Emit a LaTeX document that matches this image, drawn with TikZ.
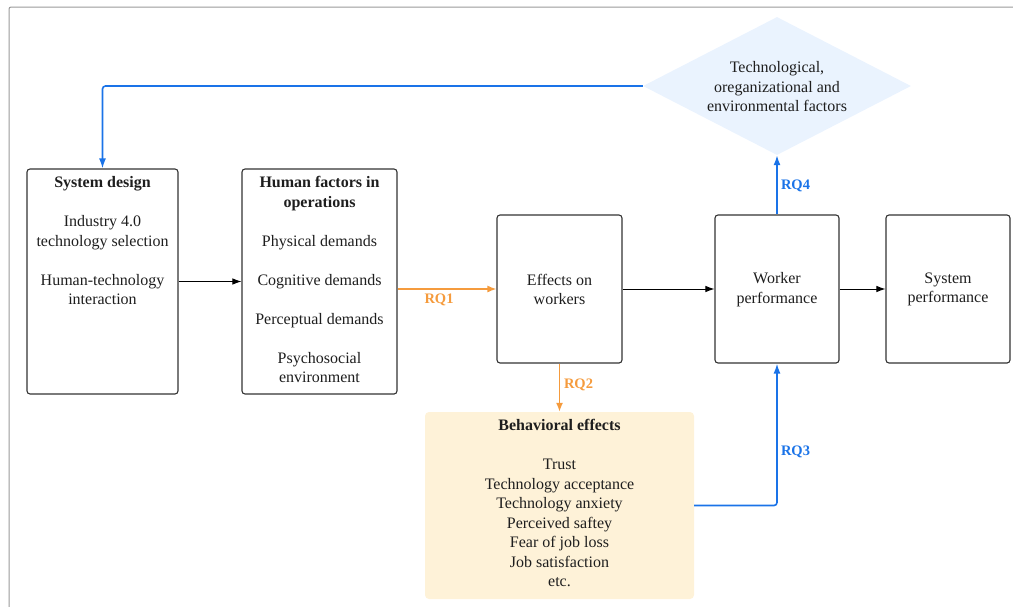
\documentclass[tikz,border=0pt]{standalone}
\usepackage{fontspec}
\setmainfont{Liberation Serif}
\usetikzlibrary{arrows.meta,shapes.geometric}
\definecolor{rqblue}{HTML}{1A73E8}
\definecolor{rqorange}{HTML}{F59B3D}
\definecolor{boxline}{HTML}{333333}
\definecolor{behfill}{HTML}{FEF2D8}
\definecolor{diafill}{HTML}{EAF3FE}
\definecolor{txt}{HTML}{1E1E1E}
\tikzset{
  x=1pt,y=-1pt,
  every node/.style={text=txt},
  boxnode/.style={draw=boxline,line width=1.1pt,rounded corners=3pt,fill=white,inner sep=0pt},
  txtnode/.style={font=\fontsize{16}{19.5}\selectfont,align=center,inner sep=0pt},
  blk/.style={draw=black,line width=0.9pt,-{Latex[length=9pt,width=6.5pt]}},
  bluearr/.style={draw=rqblue,line width=1.6pt,rounded corners=3pt,-{Latex[length=10pt,width=7pt]}},
  orarr/.style={draw=rqorange,line width=1.5pt,-{Latex[length=9pt,width=7pt]}},
  rqlab/.style={font=\fontsize{14.5}{16}\selectfont\bfseries,inner sep=0pt},
}
\begin{document}
\begin{tikzpicture}
\useasboundingbox (0,0) rectangle (1013,606);
% frame
\draw[draw=black!40,line width=1pt,rounded corners=2pt] (9,620) -- (9,7) -- (1030,7);
% boxes
\node[boxnode,minimum width=151,minimum height=225] (sd) at (102.5,281.5) {};
\node[boxnode,minimum width=155,minimum height=225] (hf) at (319.5,281.5) {};
\node[boxnode,minimum width=125,minimum height=148] (ew) at (559.5,289) {};
\node[boxnode,minimum width=124,minimum height=148] (wp) at (777,289) {};
\node[boxnode,minimum width=124,minimum height=148] (sp) at (948,289) {};
\node[fill=behfill,rounded corners=4pt,minimum width=269,minimum height=187,inner sep=0pt] (beh) at (559.5,505.5) {};
\node[diamond,fill=diafill,minimum width=268,minimum height=138,aspect=1.94,inner sep=0pt] (dia) at (777,86) {};
% texts
\node[txtnode,anchor=north] (sdt) at (102.5,176.5) {\textbf{System design}\\[19.5pt]Industry 4.0\\technology selection\\[19.5pt]Human-technology\\interaction};
\node[txtnode,anchor=north] (hft) at (319.5,176.5) {\textbf{Human factors in}\\\textbf{operations}\\[19.5pt]Physical demands\\[19.5pt]Cognitive demands\\[19.5pt]Perceptual demands\\[19.5pt]Psychosocial\\environment};
\node[txtnode] (ewt) at (559.5,289.5) {Effects on\\workers};
\node[txtnode] (wpt) at (777,289.5) {Worker\\performance};
\node[txtnode] (spt) at (948,289.5) {System\\performance};
\node[txtnode] (diat) at (777,87) {Technological,\\oreganizational and\\environmental factors};
\node[txtnode,anchor=north] (beht) at (559.5,419.5) {\textbf{Behavioral effects}\\[19.5pt]Trust\\Technology acceptance\\Technology anxiety\\Perceived saftey\\Fear of job loss\\Job satisfaction\\etc.};
% connectors
\draw[blk] (sd.east) -- (hf.west);
\draw[orarr] (hf.east |- ew.west) -- (ew.west);
\node[rqlab,text=rqorange] (rq1) at (439,299.5) {RQ1};
\draw[blk] (ew.east) -- (wp.west);
\draw[blk] (wp.east) -- (sp.west);
\draw[orarr] (ew.south) -- (beh.north);
\node[rqlab,text=rqorange] (rq2) at (578.5,384.5) {RQ2};
\draw[bluearr] (beh.east) -| (wp.south);
\node[rqlab,text=rqblue] (rq3) at (795.5,451.5) {RQ3};
\draw[bluearr] (wp.north) -- (dia.south);
\node[rqlab,text=rqblue] (rq4) at (795.5,185.5) {RQ4};
\draw[bluearr] (dia.west) -| (sd.north);
\end{tikzpicture}
\end{document}
